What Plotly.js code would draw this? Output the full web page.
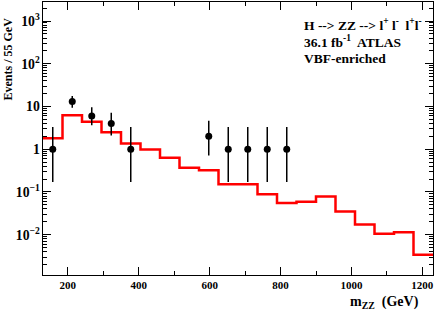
<!DOCTYPE html>
<html>
<head>
<meta charset="utf-8">
<script src="https://cdn.plot.ly/plotly-3.0.1.min.js"></script>
<style>
  html, body { margin: 0; padding: 0; background: #ffffff; }
  #chart { width: 436px; height: 316px; }
</style>
</head>
<body>
<div id="chart"></div>
<script>
// Bin edges of the histogram (GeV), 55 GeV wide bins
const binEdges = [130, 185, 240, 295, 350, 405, 460, 515, 570, 625, 680, 735, 790, 845, 900, 955, 1010, 1065, 1120, 1175, 1230];
// Expected events per bin (red histogram)
const mcValues = [1.8, 6.2, 4.4, 2.5, 1.36, 0.98, 0.63, 0.37, 0.32, 0.152, 0.152, 0.088, 0.055, 0.059, 0.078, 0.035, 0.0173, 0.0105, 0.0114, 0.0034];
// Observed data (bin centres) and counts
const dataX = [157.5, 212.5, 267.5, 322.5, 377.5, 597.5, 652.5, 707.5, 762.5, 817.5];
const dataY = [1, 13, 6, 4, 1, 2, 1, 1, 1, 1];
// Asymmetric Poisson error bars
const errUp = [2.30, 4.67, 3.58, 3.16, 2.30, 2.64, 2.30, 2.30, 2.30, 2.30];
const errDown = [0.83, 3.6, 2.38, 1.91, 0.83, 1.29, 0.83, 0.83, 0.83, 0.83];
// Text
const xTitle = 'm<sub>ZZ</sub>  (GeV)';
const yTitle = 'Events / 55 GeV';
const labelLines = ['H --> ZZ --> l<sup>+</sup> l<sup>-</sup>  l<sup>+</sup>l<sup>-</sup>', '36.1 fb<sup>-1</sup>  ATLAS', 'VBF-enriched'];

const FONT = 'Liberation Serif, Times New Roman, serif';
const X_RANGE = [130, 1230];
const Y_RANGE = [-2.943, 3.445];

const histY = mcValues.concat([mcValues[mcValues.length - 1]]);

const traces = [
  {
    type: 'scatter', mode: 'lines',
    x: binEdges, y: histY,
    line: { shape: 'hv', color: '#ff0000', width: 2.5 },
    hoverinfo: 'skip', showlegend: false
  },
  {
    type: 'scatter', mode: 'markers',
    x: dataX, y: dataY,
    marker: { color: '#000000', size: 7, symbol: 'circle' },
    error_y: { type: 'data', symmetric: false, array: errUp, arrayminus: errDown, color: '#000000', thickness: 1.5, width: 0 },
    showlegend: false
  },
  {
    // invisible trace so the mirrored tick axes (top / right) are drawn
    type: 'scatter', mode: 'markers', x: dataX, y: dataY,
    xaxis: 'x2', yaxis: 'y2', marker: { opacity: 0 }, hoverinfo: 'skip', showlegend: false
  }
];

const annots = [
  { text: labelLines[0], x: 302, y: 24.5 },
  { text: labelLines[1], x: 302, y: 41.5 },
  { text: labelLines[2], x: 302, y: 58.5 }
].map(a => ({
  text: a.text, xref: 'paper', yref: 'paper',
  x: (a.x - 43) / 390, y: (275 - a.y) / 273,
  xanchor: 'left', yanchor: 'middle', showarrow: false,
  font: { family: FONT, size: 13.5, color: '#000', weight: 'bold' }
}));

annots.push({
  text: yTitle, xref: 'paper', yref: 'paper',
  x: (7 - 43) / 390, y: (275 - 16) / 273, xanchor: 'center', yanchor: 'top',
  textangle: -90, showarrow: false,
  font: { family: FONT, size: 12, color: '#000', weight: 'bold' }
});
annots.push({
  text: xTitle, xref: 'paper', yref: 'paper',
  x: (421 - 43) / 390, y: (275 - 302) / 273, xanchor: 'right', yanchor: 'middle',
  showarrow: false,
  font: { family: FONT, size: 14, color: '#000', weight: 'bold' }
});

const xTicks = {
  tick0: 0, dtick: 200,
  ticks: 'inside', ticklen: 8, tickwidth: 1, tickcolor: '#000',
  minor: { ticks: 'inside', ticklen: 4, dtick: 100, tick0: 0, tickcolor: '#000', showgrid: false },
  showgrid: false, zeroline: false
};
const yTicks = {
  type: 'log', dtick: 1, exponentformat: 'power',
  ticks: 'inside', ticklen: 8, tickwidth: 1, tickcolor: '#000',
  minor: { ticks: 'inside', ticklen: 4, dtick: 'D1', tickcolor: '#000', showgrid: false },
  showgrid: false, zeroline: false
};

const layout = {
  width: 436, height: 316,
  margin: { l: 43, r: 3, t: 2, b: 41, pad: 0 },
  paper_bgcolor: '#ffffff', plot_bgcolor: '#ffffff',
  font: { family: FONT, size: 11, color: '#000', weight: 'bold' },
  showlegend: false,
  xaxis: Object.assign({}, xTicks, {
    range: X_RANGE,
    showline: true, linecolor: '#000', linewidth: 1, mirror: true,
    tickfont: { family: FONT, size: 11, color: '#000', weight: 'bold' }
  }),
  yaxis: Object.assign({}, yTicks, {
    range: Y_RANGE,
    showline: true, linecolor: '#000', linewidth: 1, mirror: true,
    tickfont: { family: FONT, size: 11, color: '#000', weight: 'bold' }
  }),
  xaxis2: Object.assign({}, xTicks, {
    range: X_RANGE, overlaying: 'x', side: 'top', anchor: 'y2',
    showline: false, showticklabels: false
  }),
  yaxis2: Object.assign({}, yTicks, {
    range: Y_RANGE, overlaying: 'y', side: 'right', anchor: 'x2',
    showline: false, showticklabels: false
  }),
  annotations: annots
};

Plotly.newPlot('chart', traces, layout, { displayModeBar: false, staticPlot: true });
</script>
</body>
</html>
